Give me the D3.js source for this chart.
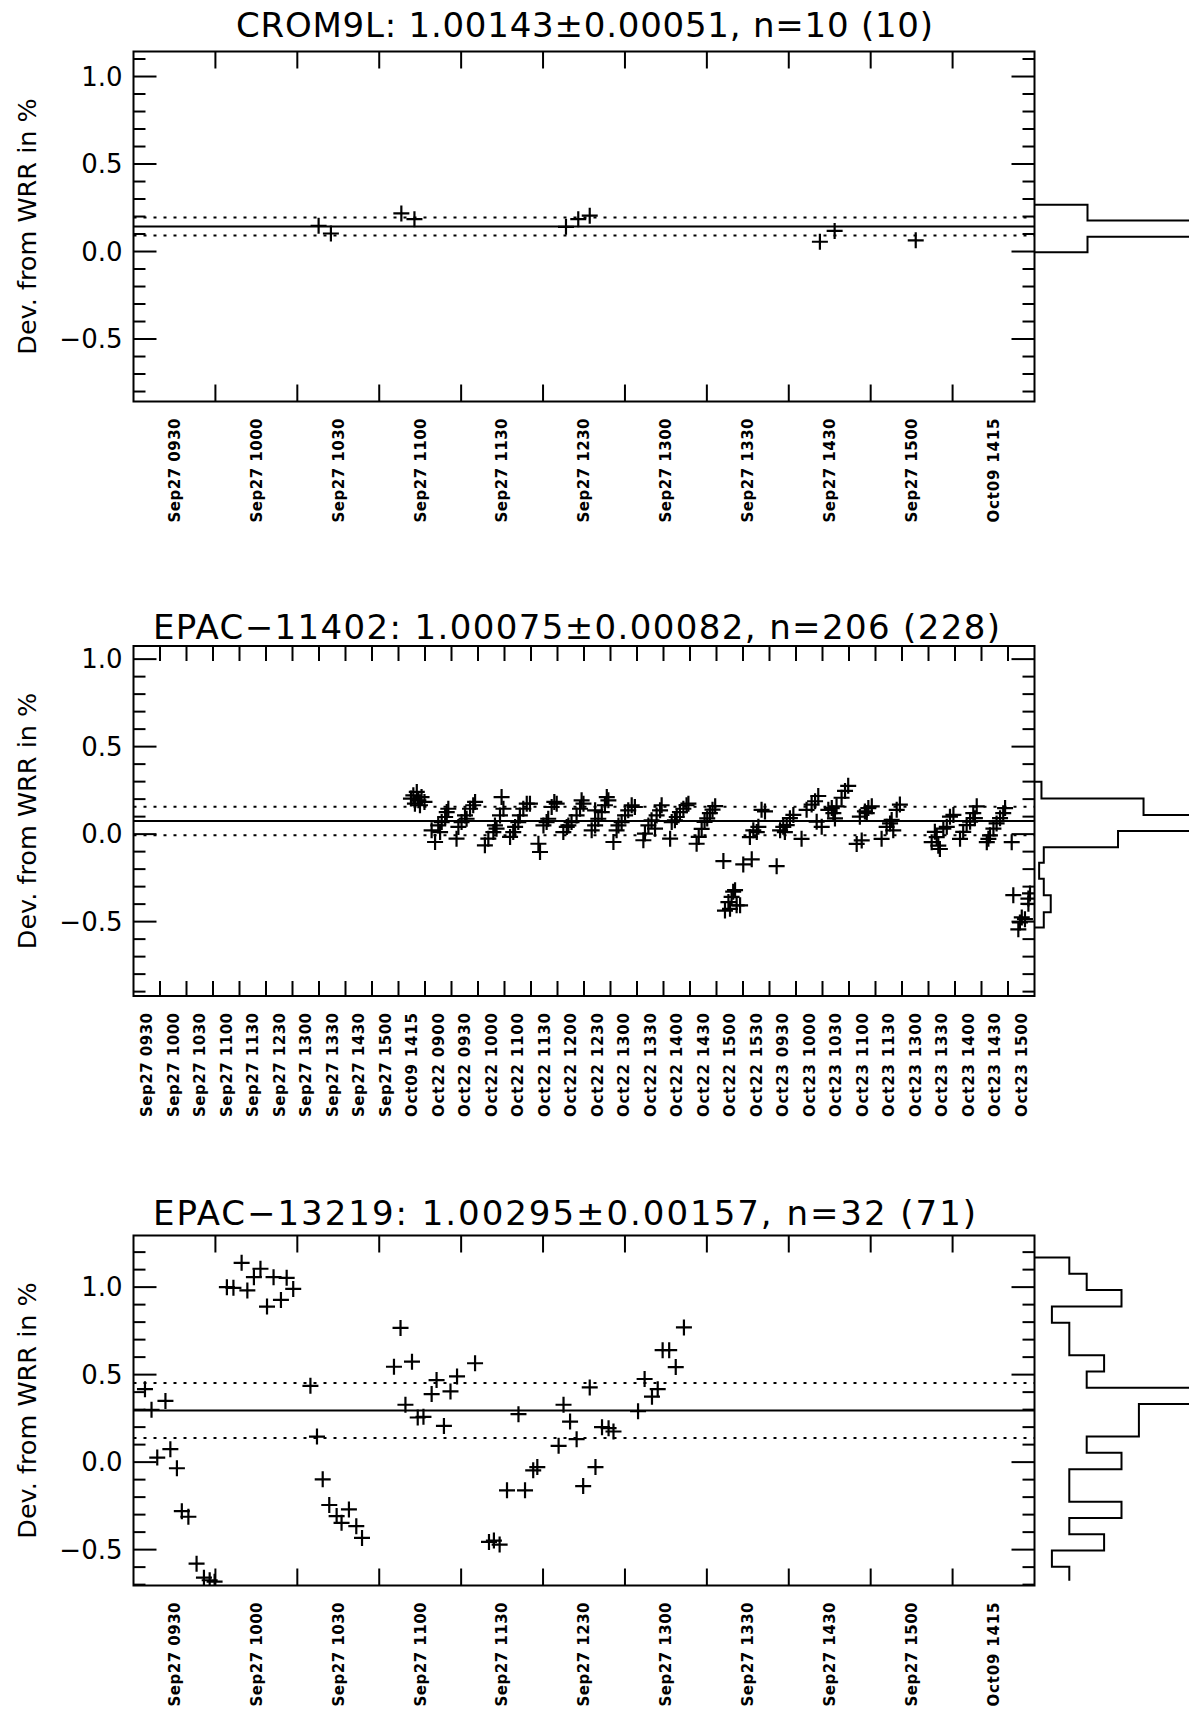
<!DOCTYPE html>
<html>
<head>
<meta charset="utf-8">
<script src="https://cdn.jsdelivr.net/npm/d3@7"></script>
<style>
  body { margin: 0; background: #fff; }
  svg { display: block; }
  text { font-family: "DejaVu Sans", "Liberation Sans", Arial, sans-serif; fill: #000; }
</style>
</head>
<body>
<script>
// ------------------------------------------------------------------ data
const labelsCrom = ["Sep27 0930","Sep27 1000","Sep27 1030","Sep27 1100","Sep27 1130","Sep27 1230",
  "Sep27 1300","Sep27 1330","Sep27 1430","Sep27 1500","Oct09 1415"];
const labelsEpac11402 = ["Sep27 0930","Sep27 1000","Sep27 1030","Sep27 1100","Sep27 1130","Sep27 1230",
  "Sep27 1300","Sep27 1330","Sep27 1430","Sep27 1500","Oct09 1415",
  "Oct22 0900","Oct22 0930","Oct22 1000","Oct22 1100","Oct22 1130","Oct22 1200","Oct22 1230",
  "Oct22 1300","Oct22 1330","Oct22 1400","Oct22 1430","Oct22 1500","Oct22 1530",
  "Oct23 0930","Oct23 1000","Oct23 1030","Oct23 1100","Oct23 1130","Oct23 1300","Oct23 1330",
  "Oct23 1400","Oct23 1430","Oct23 1500"];
const labelsEpac13219 = ["Sep27 0930","Sep27 1000","Sep27 1030","Sep27 1100","Sep27 1130","Sep27 1230",
  "Sep27 1300","Sep27 1330","Sep27 1430","Sep27 1500","Oct09 1415"];

const titles = [
  "CROM9L: 1.00143\u00b10.00051, n=10 (10)",
  "EPAC\u221211402: 1.00075\u00b10.00082, n=206 (228)",
  "EPAC\u221213219: 1.00295\u00b10.00157, n=32 (71)"
];
const means = [0.143, 0.075, 0.295];   // deviation from WRR in %
const sds   = [0.051, 0.082, 0.157];

// CROM9L points: position in measurement-block units, deviation in %
const cromX = [2.26, 2.41, 3.27, 3.43, 5.28, 5.43, 5.57, 8.38, 8.56, 9.55];
const cromY = [0.147, 0.103, 0.218, 0.185, 0.141, 0.185, 0.205, 0.056, 0.118, 0.064];

// EPAC-11402 points
const epac1X = [
  10.56,10.69,10.75,10.87,10.98,10.62,10.81,10.47,
  11.38,11.25,11.50,11.63,11.76,11.88,11.82,11.57,
  12.19,12.26,12.38,12.57,12.51,12.70,12.82,12.89,
  13.26,13.39,13.58,13.70,13.64,13.83,13.96,13.89,
  14.21,14.33,14.40,14.52,14.58,14.71,14.84,14.96,
  15.28,15.34,15.47,15.59,15.65,15.78,15.97,15.88,
  16.22,16.41,16.35,16.53,16.72,16.85,16.98,16.91,
  17.29,17.42,17.54,17.42,17.67,17.79,17.92,17.86,
  18.11,18.23,18.30,18.42,18.55,18.67,18.80,18.92,
  19.24,19.30,19.43,19.55,19.74,19.87,19.93,19.68,
  20.25,20.31,20.43,20.50,20.62,20.75,20.87,20.94,
  21.25,21.33,21.44,21.55,21.65,21.75,21.85,21.95,
  22.26,22.32,22.45,22.51,22.57,22.63,22.70,22.76,22.89,
  23.01,23.33,23.26,23.39,23.52,23.58,23.70,23.83,
  24.27,24.40,24.52,24.58,24.65,24.77,24.90,
  25.21,25.40,25.59,25.72,25.84,25.78,25.97,
  26.22,26.35,26.41,26.47,26.53,26.72,26.85,26.97,
  27.29,27.48,27.41,27.60,27.67,27.73,27.86,
  28.23,28.42,28.55,28.61,28.67,28.80,28.92,
  30.12,30.24,30.31,30.37,30.43,30.56,30.69,30.81,30.94,
  31.19,31.31,31.44,31.57,31.69,31.75,31.82,
  32.20,32.26,32.32,32.45,32.57,32.70,32.82,32.89,
  33.14,33.20,33.39,33.45,33.52,33.64,33.77,33.83,33.77
];
const epac1Y = [
  0.222,0.241,0.193,0.212,0.184,0.174,0.165,0.203,
  -0.045,0.022,0.050,0.069,0.098,0.145,0.126,0.012,
  -0.026,0.041,0.069,0.088,0.107,0.145,0.165,0.184,
  -0.064,-0.026,0.012,0.031,0.050,0.107,0.145,0.212,
  -0.016,0.012,0.041,0.069,0.107,0.145,0.174,0.174,
  -0.055,-0.102,0.050,0.069,0.088,0.155,0.174,0.184,
  0.012,0.050,0.041,0.069,0.107,0.145,0.174,0.193,
  0.022,0.050,0.088,0.136,0.126,0.165,0.193,0.212,
  -0.045,0.022,0.050,0.069,0.107,0.136,0.165,0.155,
  -0.035,0.003,0.050,0.079,0.107,0.136,0.165,0.031,
  -0.026,0.069,0.079,0.098,0.126,0.145,0.165,0.174,
  -0.055,-0.016,0.030,0.070,0.090,0.120,0.140,0.160,
  -0.154,-0.437,-0.388,-0.427,-0.359,-0.329,-0.320,-0.407,-0.407,
  -0.173,-0.144,-0.017,0.022,0.012,0.042,0.139,0.130,
  -0.183,0.022,0.042,0.012,0.052,0.091,0.110,
  -0.027,0.139,0.169,0.188,0.218,0.071,0.042,
  0.139,0.149,0.120,0.090,0.159,0.208,0.247,0.276,
  -0.056,-0.036,0.100,0.130,0.120,0.149,0.159,
  -0.027,0.042,0.061,0.081,0.022,0.139,0.169,
  -0.046,0.013,-0.017,-0.066,-0.085,0.032,0.042,0.100,0.110,
  -0.027,0.013,0.052,0.071,0.120,0.091,0.159,
  -0.046,-0.027,-0.007,0.032,0.061,0.091,0.120,0.149,
  -0.046,-0.349,-0.544,-0.505,-0.476,-0.486,-0.368,-0.339,-0.398
];

// EPAC-13219 points
const epac2X = [
  0.14,0.22,0.39,0.29,0.45,0.53,0.59,0.67,0.77,0.86,0.93,0.99,
  1.14,1.22,1.32,1.39,1.47,1.55,1.63,1.71,1.80,1.87,1.95,
  2.16,2.24,2.31,2.39,2.48,2.54,2.63,2.72,2.79,
  3.18,3.26,3.32,3.40,3.47,3.54,3.64,3.70,3.79,3.87,3.95,4.17,
  4.34,4.40,4.47,4.56,4.70,4.78,4.88,4.93,5.19,5.25,5.33,5.41,5.49,5.57,5.64,5.72,5.80,5.86,
  6.16,6.24,6.33,6.40,6.46,6.54,6.62,6.72
];
const epac2Y = [
  0.417,0.299,0.350,0.026,0.074,-0.035,-0.280,-0.312,-0.580,-0.660,-0.675,-0.683,
  1.000,0.996,1.139,0.981,1.057,1.105,0.889,1.057,0.927,1.053,0.990,
  0.436,0.146,-0.098,-0.245,-0.308,-0.347,-0.270,-0.366,-0.433,
  0.545,0.767,0.328,0.574,0.255,0.259,0.389,0.469,0.207,0.404,0.490,0.565,
  -0.456,-0.448,-0.471,-0.161,0.274,-0.161,-0.047,-0.028,0.093,0.328,0.232,0.131,-0.137,0.427,-0.028,0.200,0.194,0.175,
  0.291,0.475,0.374,0.417,0.640,0.640,0.543,0.770
];

// side histograms: bin edges (deviation, top to bottom) and counts
const histEdgesCrom = [0.268, 0.178, 0.085, -0.004];
const histCountsCrom = [1, 4, 1];
const histEdgesEpac1 = [0.300, 0.204, 0.110, 0.018, -0.075, -0.163, -0.255, -0.349, -0.447, -0.534];
const histCountsEpac1 = [3, 47, 110, 36, 4, 2, 4, 7, 4];
const histEdgesEpac2 = [1.169, 1.076, 0.983, 0.890, 0.797, 0.704, 0.611, 0.518, 0.425, 0.332, 0.239,
  0.146, 0.053, -0.040, -0.133, -0.226, -0.319, -0.412, -0.505, -0.598, -0.678];
const histCountsEpac2 = [2, 3, 5, 1, 2, 2, 4, 3, 11, 6, 6, 3, 5, 2, 2, 5, 2, 4, 1, 2];

// ------------------------------------------------------------------ layout
const W = 1189, H = 1714;
const L = 133.5, R = 1034.5, PH = 350;

const panels = [
  { title: titles[0], tx: 236, ty: 37, tlen: 697, top: 51.5, labels: labelsCrom,
    xs: cromX, ys: cromY, mean: means[0], sd: sds[0],
    edges: histEdgesCrom, counts: histCountsCrom, pxPerCount: 53, close: true, xTick: 17 },
  { title: titles[1], tx: 153, ty: 639, tlen: 847, top: 646, labels: labelsEpac11402,
    xs: epac1X, ys: epac1Y, mean: means[1], sd: sds[1],
    edges: histEdgesEpac1, counts: histCountsEpac1, pxPerCount: 2.32, close: true, xTick: 15 },
  { title: titles[2], tx: 153, ty: 1225, tlen: 823, top: 1235.5, labels: labelsEpac13219,
    xs: epac2X, ys: epac2Y, mean: means[2], sd: sds[2],
    edges: histEdgesEpac2, counts: histCountsEpac2, pxPerCount: 17.4, close: false, xTick: 17 }
];

const svg = d3.select("body").append("svg")
  .attr("width", W).attr("height", H).attr("viewBox", `0 0 ${W} ${H}`);
svg.append("rect").attr("width", W).attr("height", H).attr("fill", "#fff");

const fmt = d3.format(".1f");
const SW = 2;

panels.forEach((c, pi) => {
  const g = svg.append("g");
  const N = c.labels.length;
  const bottom = c.top + PH;
  const x = d3.scaleLinear().domain([0, N]).range([L, R]);
  const y = d3.scaleLinear().domain([c.mean - 1, c.mean + 1]).range([bottom, c.top]);

  // clip for data
  const clipId = "clip" + pi;
  svg.append("clipPath").attr("id", clipId)
    .append("rect").attr("x", L).attr("y", c.top).attr("width", R - L).attr("height", PH);

  // title
  g.append("text")
    .attr("x", c.tx).attr("y", c.ty)
    .attr("font-size", 34)
    .attr("textLength", c.tlen).attr("lengthAdjust", "spacing")
    .text(c.title);

  // y-axis title
  g.append("text")
    .attr("transform", `translate(36,${c.top + PH / 2}) rotate(-90)`)
    .attr("text-anchor", "middle")
    .attr("font-size", 25.5)
    .text("Dev. from WRR in %");

  // y ticks (left and right, inward)
  const yt = y.ticks(20);
  yt.forEach(v => {
    const major = Math.abs(v * 2 - Math.round(v * 2)) < 1e-6;
    const len = major ? 23 : 12;
    const yy = y(v);
    g.append("line").attr("x1", L).attr("x2", L + len).attr("y1", yy).attr("y2", yy)
      .attr("stroke", "#000").attr("stroke-width", SW);
    g.append("line").attr("x1", R).attr("x2", R - len).attr("y1", yy).attr("y2", yy)
      .attr("stroke", "#000").attr("stroke-width", SW);
    if (major) {
      g.append("text")
        .attr("x", L - 11).attr("y", yy)
        .attr("dy", "0.36em")
        .attr("text-anchor", "end")
        .attr("font-size", 26)
        .text(fmt(v));
    }
  });

  // x ticks (top and bottom, inward) at block boundaries
  d3.range(1, N).forEach(i => {
    const xx = x(i);
    g.append("line").attr("x1", xx).attr("x2", xx).attr("y1", c.top).attr("y2", c.top + c.xTick)
      .attr("stroke", "#000").attr("stroke-width", SW);
    g.append("line").attr("x1", xx).attr("x2", xx).attr("y1", bottom).attr("y2", bottom - c.xTick)
      .attr("stroke", "#000").attr("stroke-width", SW);
  });

  // x labels, rotated
  c.labels.forEach((lab, i) => {
    g.append("text")
      .attr("transform", `translate(${x(i + 0.5)},${bottom + 17}) rotate(-90)`)
      .attr("text-anchor", "end")
      .attr("dy", "0.36em")
      .attr("font-size", 15)
      .attr("font-weight", "bold")
      .attr("textLength", 104).attr("lengthAdjust", "spacing")
      .text(lab);
  });

  // mean and +-sd lines
  g.append("line").attr("x1", L).attr("x2", R).attr("y1", y(c.mean)).attr("y2", y(c.mean))
    .attr("stroke", "#000").attr("stroke-width", SW);
  [c.mean + c.sd, c.mean - c.sd].forEach(v => {
    g.append("line").attr("x1", L).attr("x2", R).attr("y1", y(v)).attr("y2", y(v))
      .attr("stroke", "#000").attr("stroke-width", SW)
      .attr("stroke-dasharray", "3,7");
  });

  // data crosses
  const pts = c.xs.map((xv, i) => [xv, c.ys[i]]);
  g.append("g").attr("clip-path", `url(#${clipId})`)
    .selectAll("path").data(pts).join("path")
    .attr("d", d => {
      const px = x(d[0]), py = y(d[1]), s = 8;
      return `M${px - s},${py}H${px + s}M${px},${py - s}V${py + s}`;
    })
    .attr("stroke", "#000").attr("stroke-width", 2.2).attr("fill", "none");

  // side histogram
  const hx = d3.scaleLinear().domain([0, 1]).range([R, R + c.pxPerCount]);
  const hp = [[0, c.edges[0]]];
  c.counts.forEach((n, i) => {
    hp.push([n, c.edges[i]]);
    hp.push([n, c.edges[i + 1]]);
  });
  if (c.close) hp.push([0, c.edges[c.edges.length - 1]]);
  g.append("path")
    .attr("d", d3.line().x(d => hx(d[0])).y(d => y(d[1]))(hp))
    .attr("fill", "none").attr("stroke", "#000").attr("stroke-width", SW);

  // plot box
  g.append("rect").attr("x", L).attr("y", c.top).attr("width", R - L).attr("height", PH)
    .attr("fill", "none").attr("stroke", "#000").attr("stroke-width", SW);
});
</script>
</body>
</html>
